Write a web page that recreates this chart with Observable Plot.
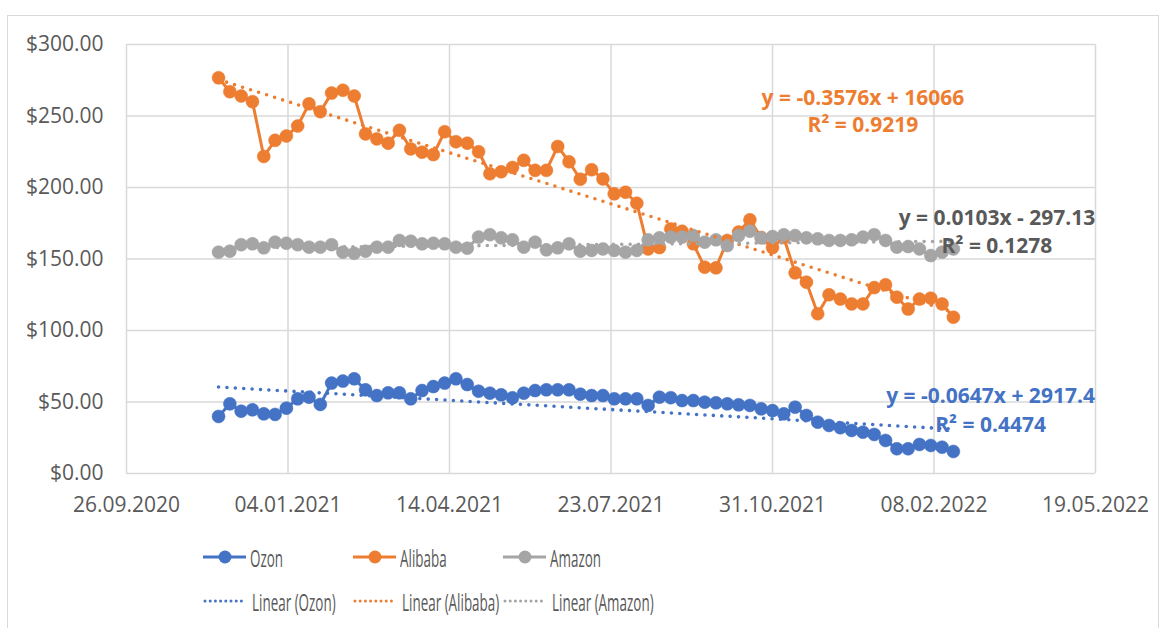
<!DOCTYPE html>
<html>
<head>
<meta charset="utf-8">
<script src="https://cdn.jsdelivr.net/npm/d3@7"></script>
<script src="https://cdn.jsdelivr.net/npm/@observablehq/plot@0.6"></script>
<style>
  html, body { margin: 0; padding: 0; background: #fff; }
  body { width: 1167px; height: 628px; position: relative; overflow: hidden; font-family: "Open Sans", sans-serif; }
  #frame { position: absolute; left: 7px; top: 15px; width: 1152px; height: 640px; border: 1.5px solid #d9d9d9; box-sizing: border-box; }
  #chart { position: absolute; left: 0; top: 0; }
  .lg { position: absolute; height: 30px; display: flex; align-items: center; }
  .lg svg { flex: none; }
  .lg span { display: inline-block; font-size: 24px; color: #595959; transform: scaleX(0.56); transform-origin: left center; white-space: nowrap; margin-left: 3px; }
</style>
</head>
<body>
<div id="frame"></div>
<div id="chart"></div>
<div id="legend"></div>
<script>
// ---- Data (weekly closing prices) ----
const dates = [
  "2020-11-22","2020-11-29","2020-12-06","2020-12-13","2020-12-20","2020-12-27",
  "2021-01-03","2021-01-10","2021-01-17","2021-01-24","2021-01-31",
  "2021-02-07","2021-02-14","2021-02-21","2021-02-28",
  "2021-03-07","2021-03-14","2021-03-21","2021-03-28",
  "2021-04-04","2021-04-11","2021-04-18","2021-04-25",
  "2021-05-02","2021-05-09","2021-05-16","2021-05-23","2021-05-30",
  "2021-06-06","2021-06-13","2021-06-20","2021-06-27",
  "2021-07-04","2021-07-11","2021-07-18","2021-07-25",
  "2021-08-01","2021-08-08","2021-08-15","2021-08-22","2021-08-29",
  "2021-09-05","2021-09-12","2021-09-19","2021-09-26",
  "2021-10-03","2021-10-10","2021-10-17","2021-10-24","2021-10-31",
  "2021-11-07","2021-11-14","2021-11-21","2021-11-28",
  "2021-12-05","2021-12-12","2021-12-19","2021-12-26",
  "2022-01-02","2022-01-09","2022-01-16","2022-01-23","2022-01-30",
  "2022-02-06","2022-02-13","2022-02-20"
];
const ozon = [
  39.9, 48.7, 43.6, 44.5, 41.7, 41.3, 45.7, 52.2, 53.4, 48.3,
  63.2, 64.6, 66.2, 58.5, 54.5, 56.4, 56.4, 52.2, 58.0, 60.8,
  63.2, 66.2, 62.2, 57.6, 56.2, 55.0, 52.9, 56.2, 58.0, 58.5,
  58.5, 58.5, 55.5, 54.5, 54.5, 52.2, 52.2, 52.2, 47.6, 53.4,
  53.0, 51.0, 51.0, 49.9, 49.4, 48.7, 48.0, 47.6, 45.2, 44.0,
  41.7, 46.4, 40.6, 35.9, 33.6, 32.0, 30.1, 28.9, 27.3, 23.1,
  17.3, 17.3, 20.3, 19.6, 18.4, 15.4
];
const alibaba = [
  276.7, 267.0, 264.0, 260.0, 221.7, 233.0, 236.0, 243.0, 258.5, 253.0,
  266.0, 268.0, 264.0, 237.5, 234.0, 231.0, 240.0, 227.0, 224.7, 223.0,
  239.0, 232.0, 231.0, 225.0, 209.6, 211.0, 214.0, 219.0, 212.0, 212.0,
  228.7, 218.0, 205.8, 212.4, 206.0, 195.6, 196.7, 189.0, 157.0, 158.0,
  171.0, 169.4, 160.6, 144.3, 143.8, 163.0, 168.8, 177.4, 165.0, 158.0,
  165.0, 140.3, 133.8, 111.7, 125.0, 122.0, 118.6, 118.6, 130.0, 132.0,
  123.3, 115.0, 122.0, 122.6, 118.6, 109.3
];
const amazon = [
  154.8, 155.5, 160.0, 160.6, 157.8, 161.8, 161.0, 160.0, 158.3, 158.3,
  160.0, 154.8, 154.0, 155.5, 158.3, 158.3, 163.0, 162.5, 160.6, 161.0,
  160.6, 158.3, 157.6, 165.3, 167.0, 164.8, 163.4, 158.3, 161.8, 156.4,
  157.8, 160.6, 155.5, 156.0, 157.0, 156.0, 154.8, 156.0, 163.4, 164.8,
  165.3, 165.3, 166.4, 161.8, 163.4, 159.4, 166.4, 169.4, 164.8, 165.7,
  166.9, 166.4, 164.8, 164.1, 163.0, 163.0, 163.4, 165.3, 167.0, 163.0,
  158.3, 158.7, 157.0, 152.4, 154.8, 157.0
];
const seriesNames = ["Ozon", "Alibaba", "Amazon"];
const seriesColors = ["#4472C4", "#ED7D31", "#A5A5A5"];
const seriesValues = [ozon, alibaba, amazon];
// Linear trendline coefficients (x = Excel serial date), as printed on the chart
const trendSlopes = [-0.0647, -0.3576, 0.0103];
const trendIntercepts = [2917.4, 16066, -297.13];
const equationTexts = [
  ["y = -0.0647x + 2917.4", "R² = 0.4474"],
  ["y = -0.3576x + 16066", "R² = 0.9219"],
  ["y = 0.0103x - 297.13", "R² = 0.1278"]
];
const equationColors = ["#4472C4", "#ED7D31", "#595959"];
// Label anchors in data space (date, value) for the two lines of each equation
const equationDates = ["2022-03-15", "2021-12-26", "2022-03-19"];
const equationValues = [[53.8, 33.6], [262.2, 243.4], [178.3, 158.7]];
// Axis ticks
const xTickLabels = ["26.09.2020","04.01.2021","14.04.2021","23.07.2021","31.10.2021","08.02.2022","19.05.2022"];
const yTickValues = [0, 50, 100, 150, 200, 250, 300];

// ---- Build tables ----
const parseDMY = d3.utcParse("%d.%m.%Y");
const xTicks = xTickLabels.map(parseDMY);
const dateObjs = dates.map(d => new Date(d + "T00:00:00Z"));
const rows = [];
seriesNames.forEach((name, s) => {
  seriesValues[s].forEach((v, i) => rows.push({series: name, date: dateObjs[i], value: v}));
});
const excelEpoch = Date.UTC(1899, 11, 30);
const serial = d => (d - excelEpoch) / 864e5;
const trendRows = [];
seriesNames.forEach((name, s) => {
  [dateObjs[0], dateObjs[dateObjs.length - 1]].forEach(d =>
    trendRows.push({series: name, date: d, value: trendSlopes[s] * serial(d) + trendIntercepts[s]}));
});
const labelRows = [];
seriesNames.forEach((name, s) => {
  equationTexts[s].forEach((t, k) => labelRows.push({
    date: new Date(equationDates[s] + "T00:00:00Z"), value: equationValues[s][k], text: t, color: equationColors[s]
  }));
});

const marks = [
  Plot.gridX(xTicks, {stroke: "#d9d9d9", strokeOpacity: 1, strokeWidth: 1.5}),
  Plot.gridY(yTickValues, {stroke: "#d9d9d9", strokeOpacity: 1, strokeWidth: 1.5}),
  Plot.axisX(xTicks, {tickSize: 0, tickPadding: 24, tickFormat: d3.utcFormat("%d.%m.%Y"), label: null, fontSize: 21}),
  Plot.axisY(yTickValues, {tickSize: 0, tickPadding: 23, tickFormat: d => "$" + d.toFixed(2), label: null, fontSize: 21})
];
seriesNames.forEach((name, s) => {
  const data = rows.filter(r => r.series === name);
  marks.push(Plot.line(data, {x: "date", y: "value", stroke: seriesColors[s], strokeWidth: 3}));
  marks.push(Plot.dot(data, {x: "date", y: "value", r: 6.5, fill: seriesColors[s], stroke: seriesColors[s], strokeWidth: 0.5}));
});
seriesNames.forEach((name, s) => {
  marks.push(Plot.line(trendRows.filter(r => r.series === name), {
    x: "date", y: "value", stroke: seriesColors[s], strokeWidth: 3.6,
    strokeDasharray: "0,8.4", strokeLinecap: "round"
  }));
});
marks.push(Plot.text(labelRows, {
  x: "date", y: "value", text: "text", fill: "color",
  fontSize: 21, fontWeight: "bold", textAnchor: "middle"
}));

const chart = Plot.plot({
  width: 1167, height: 510,
  marginLeft: 126, marginRight: 72, marginTop: 44, marginBottom: 37,
  style: {fontFamily: "'Open Sans', sans-serif", fontSize: "21px", color: "#595959", background: "transparent", overflow: "visible"},
  x: {type: "utc", domain: [xTicks[0], xTicks[xTicks.length - 1]]},
  y: {domain: [0, 300]},
  marks
});
document.getElementById("chart").appendChild(chart);

// ---- Legend ----
const legend = document.getElementById("legend");
const legendLeft = [203, 353, 503];
seriesNames.forEach((name, s) => {
  const a = document.createElement("div");
  a.className = "lg";
  a.style.left = legendLeft[s] + "px";
  a.style.top = (557 - 15) + "px";
  a.innerHTML = `<svg width="44" height="30"><line x1="0" y1="15" x2="43" y2="15" stroke="${seriesColors[s]}" stroke-width="3"/><circle cx="22" cy="15" r="6.5" fill="${seriesColors[s]}"/></svg><span>${name}</span>`;
  legend.appendChild(a);
  const b = document.createElement("div");
  b.className = "lg";
  b.style.left = legendLeft[s] + "px";
  b.style.top = (601 - 15) + "px";
  b.innerHTML = `<svg width="46" height="30"><line x1="2" y1="15" x2="40" y2="15" stroke="${seriesColors[s]}" stroke-width="3" stroke-dasharray="0,5.2" stroke-linecap="round"/></svg><span>Linear (${name})</span>`;
  legend.appendChild(b);
});
</script>
</body>
</html>
